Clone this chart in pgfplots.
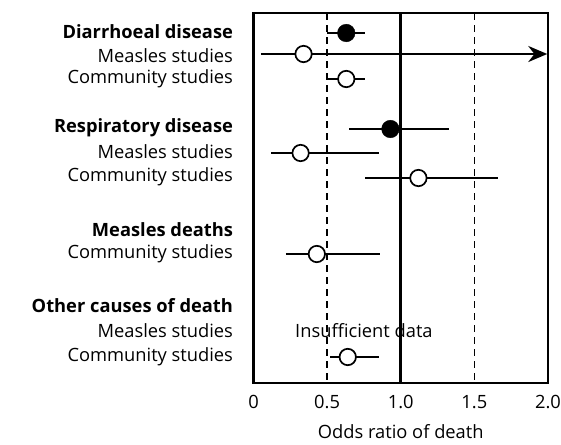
\documentclass[border=0pt]{standalone}
\usepackage{pgfplots}
\pgfplotsset{compat=1.18}
\usepackage{fontspec}
\setmainfont{Open Sans}
\usetikzlibrary{arrows.meta,calc}
\newcommand{\fs}{\fontsize{18.3}{21}\selectfont}
\begin{document}
\begin{tikzpicture}[font=\fs]
\begin{axis}[
  name=ax,
  scale only axis,
  width=294.5pt, height=370pt,
  xmin=0, xmax=2, ymin=13, ymax=383,
  y dir=reverse,
  axis line style={line width=2.6pt},
  major tick length=0pt,
  xtick={0,0.5,1,1.5,2},
  xticklabels={0,0.5,1.0,1.5,2.0},
  ytick={32,56,79,128,152,177,230,254,306,331,357},
  yticklabels={\textbf{Diarrhoeal disease},Measles studies,Community studies,\textbf{Respiratory disease},Measles studies,Community studies,\textbf{Measles deaths},Community studies,\textbf{Other causes of death},Measles studies,Community studies},
  ticklabel style={font=\fs},
  yticklabel style={xshift=-17pt},
  xticklabel style={yshift=-9pt},
  xlabel={Odds ratio of death},
  xlabel style={font=\fs, yshift=-9pt},
  clip=false,
]
% reference lines
\addplot[black, line width=1.4pt, dash pattern=on 7pt off 5pt] coordinates {(0.5,13) (0.5,383)};
\addplot[black, line width=1.4pt, dash pattern=on 7pt off 5pt] coordinates {(1.5,13) (1.5,383)};
\addplot[black, line width=2.6pt] coordinates {(1.0,13) (1.0,383)};
% confidence intervals
\addplot[black, line width=2.5pt, unbounded coords=jump] table {
x y
0.50 33
0.76 33
nan nan
0.50 79
0.76 79
nan nan
0.65 129
1.33 129
nan nan
0.12 153
0.85 153
nan nan
0.76 178
1.66 178
nan nan
0.22 254
0.86 254
nan nan
0.52 357
0.85 357
};
\addplot[black, line width=2.5pt, -{Stealth[length=19pt,width=16pt]}] coordinates {(0.05,54) (1.995,54)};
% filled markers (pooled)
\addplot[only marks, mark=*, mark size=8.8pt, mark options={fill=black, draw=black}] table {
x y
0.63 33
0.93 129
};
% open markers
\addplot[only marks, mark=*, mark size=8.2pt, mark options={fill=white, draw=black, line width=1.7pt}] table {
x y
0.34 54
0.63 79
0.32 153
1.12 178
0.43 254
0.64 357
};
\node[font=\fs] at (axis cs:0.75,331) {Insufficient data};
\end{axis}
\pgfresetboundingbox
\path ($(ax.south west)+(-253.5pt,-61pt)$) rectangle ++(561pt,444pt);
\end{tikzpicture}
\end{document}
